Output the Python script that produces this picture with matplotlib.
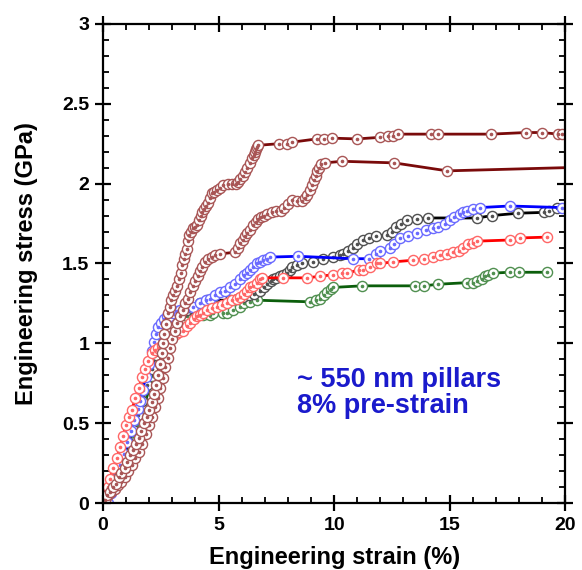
import matplotlib
matplotlib.use('Agg')
import matplotlib.pyplot as plt
from matplotlib.ticker import MultipleLocator

plt.rcParams['font.family'] = ['Liberation Sans', 'DejaVu Sans']
plt.rcParams['font.weight'] = 'bold'

# strain (%) / stress (GPa)
brown1_x = [0.0, 0.08, 0.18, 0.3, 0.42, 0.55, 0.68, 0.8, 0.93, 1.05, 1.18, 1.3, 1.42, 1.55, 1.66, 1.78,
            1.9, 2.0, 2.1, 2.2, 2.3, 2.38, 2.46, 2.54, 2.6, 2.66, 2.72, 2.8, 2.88, 2.96, 3.04, 3.12,
            3.2, 3.28, 3.36, 3.44, 3.5, 3.56, 3.62, 3.68, 3.74, 3.82, 3.9, 3.98, 4.06, 4.14, 4.22,
            4.3, 4.38, 4.46, 4.54, 4.62, 4.7, 4.8, 4.92, 5.05, 5.2, 5.4, 5.6, 5.75, 5.85, 5.95,
            6.05, 6.15, 6.25, 6.35, 6.45, 6.52, 6.58, 6.63, 6.68, 6.72, 7.6, 7.95, 8.2, 9.25, 9.55,
            9.9, 11.0, 12.0, 12.35, 12.55, 12.75, 14.2, 14.5, 16.8, 18.3, 19.0, 19.7, 19.85]
brown1_y = [0.0, 0.02, 0.05, 0.07, 0.10, 0.12, 0.16, 0.19, 0.22, 0.26, 0.30, 0.33, 0.37, 0.41, 0.45, 0.50,
            0.54, 0.58, 0.63, 0.68, 0.74, 0.80, 0.87, 0.94, 1.00, 1.06, 1.12, 1.19, 1.23, 1.27, 1.30, 1.33,
            1.36, 1.40, 1.44, 1.49, 1.53, 1.56, 1.59, 1.64, 1.68, 1.70, 1.72, 1.73, 1.74, 1.77, 1.80,
            1.82, 1.84, 1.86, 1.88, 1.91, 1.94, 1.95, 1.96, 1.97, 1.99, 2.00, 2.00, 2.00, 2.01, 2.03,
            2.05, 2.07, 2.10, 2.13, 2.16, 2.18, 2.20, 2.22, 2.23, 2.24, 2.25, 2.25, 2.26, 2.28, 2.28,
            2.285, 2.28, 2.29, 2.30, 2.30, 2.31, 2.31, 2.31, 2.31, 2.32, 2.32, 2.31, 2.31]

brown2_x = [0.0, 0.1, 0.22, 0.35, 0.5, 0.65, 0.8, 0.95, 1.1, 1.25, 1.4, 1.55, 1.7, 1.85, 2.0, 2.12,
            2.24, 2.36, 2.48, 2.6, 2.7, 2.8, 2.9, 3.0, 3.1, 3.22, 3.33, 3.45, 3.56, 3.66, 3.78, 3.9,
            4.0, 4.1, 4.2, 4.3, 4.42, 4.55, 4.7, 4.85, 5.06, 5.7, 5.85, 5.95, 6.05, 6.15, 6.25, 6.36,
            6.48, 6.6, 6.72, 6.85, 6.95, 7.1, 7.3, 7.5, 7.7, 7.85, 8.0, 8.2, 8.4, 8.6, 8.75, 8.85,
            8.96, 9.05, 9.12, 9.2, 9.28, 9.36, 9.45, 9.6, 10.35, 12.6, 14.9, 20.0]
brown2_y = [0.0, 0.02, 0.05, 0.07, 0.09, 0.11, 0.13, 0.16, 0.20, 0.24, 0.28, 0.32, 0.37, 0.43, 0.49, 0.54,
            0.60, 0.66, 0.72, 0.78, 0.85, 0.91, 0.97, 1.03, 1.08, 1.13, 1.17, 1.21, 1.25, 1.28, 1.32, 1.36,
            1.39, 1.42, 1.45, 1.48, 1.51, 1.53, 1.54, 1.55, 1.56, 1.57, 1.60, 1.63, 1.65, 1.67, 1.69, 1.71,
            1.74, 1.76, 1.78, 1.79, 1.80, 1.81, 1.82, 1.83, 1.83, 1.85, 1.87, 1.90, 1.89, 1.89, 1.91, 1.93,
            1.96, 1.99, 2.02, 2.05, 2.08, 2.10, 2.12, 2.13, 2.14, 2.13, 2.08, 2.10]

blue_x = [0.2, 0.35, 0.55, 0.75, 0.9, 1.05, 1.2, 1.35, 1.5, 1.6, 1.72, 1.85, 1.98, 2.1, 2.2, 2.3,
          2.4, 2.5, 2.62, 2.77, 2.9, 3.05, 3.2, 3.33, 3.55, 3.9, 4.2, 4.45, 4.63, 4.85, 5.06, 5.3,
          5.5, 5.7, 5.93, 6.1, 6.23, 6.36, 6.5, 6.67, 6.8, 6.93, 7.1, 7.23, 8.44, 10.8, 11.5, 11.8,
          12.0, 12.4, 12.6, 12.86, 13.2, 13.6, 14.0, 14.3, 14.5, 14.8, 15.0, 15.2, 15.45, 15.6, 15.76,
          16.0, 16.3, 17.6, 19.87]
blue_y = [0.0, 0.06, 0.15, 0.24, 0.31, 0.38, 0.45, 0.52, 0.59, 0.64, 0.71, 0.79, 0.87, 0.95, 1.01, 1.06,
          1.10, 1.13, 1.15, 1.17, 1.17, 1.19, 1.20, 1.21, 1.22, 1.23, 1.25, 1.27, 1.28, 1.30, 1.32, 1.33,
          1.35, 1.37, 1.40, 1.43, 1.44, 1.46, 1.48, 1.50, 1.51, 1.52, 1.53, 1.54, 1.545, 1.53, 1.53, 1.56,
          1.58, 1.60, 1.62, 1.66, 1.67, 1.69, 1.71, 1.72, 1.73, 1.75, 1.77, 1.79, 1.81, 1.82, 1.83,
          1.84, 1.85, 1.86, 1.85]

black_x = [0.1, 0.3, 0.5, 0.7, 0.9, 1.1, 1.3, 1.5, 1.7, 1.9, 2.1, 2.3, 2.5, 2.65, 2.77, 2.9,
           3.05, 3.2, 3.4, 3.63, 3.85, 4.05, 4.2, 4.33, 4.5, 5.5, 5.8, 6.06, 6.3, 6.55, 6.8, 6.95,
           7.1, 7.25, 7.37, 7.5, 7.66, 7.8, 7.96, 8.1, 8.2, 8.4, 8.6, 9.1, 9.5, 9.96, 10.26, 10.4,
           10.6, 10.8, 11.0, 11.26, 11.5, 11.8, 12.3, 12.5, 12.7, 12.9, 13.16, 13.6, 14.07, 16.2,
           16.84, 17.97, 19.1, 19.3, 19.65]
black_y = [0.0, 0.07, 0.15, 0.22, 0.30, 0.38, 0.46, 0.55, 0.64, 0.74, 0.84, 0.93, 1.00, 1.05, 1.10, 1.13,
           1.15, 1.17, 1.19, 1.21, 1.22, 1.23, 1.25, 1.25, 1.27, 1.27, 1.28, 1.29, 1.30, 1.31, 1.33, 1.35,
           1.37, 1.39, 1.40, 1.41, 1.42, 1.43, 1.44, 1.46, 1.48, 1.49, 1.50, 1.51, 1.53, 1.54, 1.55, 1.56,
           1.58, 1.60, 1.62, 1.65, 1.66, 1.67, 1.68, 1.70, 1.73, 1.75, 1.77, 1.78, 1.785, 1.785,
           1.80, 1.815, 1.82, 1.83, 1.85]

red_x = [0.0, 0.1, 0.2, 0.3, 0.45, 0.6, 0.75, 0.87, 1.0, 1.12, 1.25, 1.4, 1.55, 1.7, 1.82, 1.95,
         2.1, 2.25, 2.4, 2.55, 2.7, 2.85, 3.0, 3.15, 3.3, 3.47, 3.62, 3.77, 3.92, 4.07, 4.2, 4.33,
         4.5, 4.7, 4.93, 5.15, 5.37, 5.6, 5.8, 5.93, 6.1, 6.23, 6.36, 6.5, 6.65, 6.8, 6.88, 7.8,
         8.83, 9.4, 9.96, 10.35, 10.56, 11.1, 11.26, 11.56, 11.86, 12.0, 12.55, 13.4, 13.9, 14.3,
         14.6, 14.9, 15.15, 15.4, 15.6, 15.8, 16.0, 16.2, 17.6, 18.05, 19.2]
red_y = [0.0, 0.05, 0.10, 0.15, 0.22, 0.28, 0.35, 0.42, 0.49, 0.54, 0.58, 0.66, 0.72, 0.79, 0.84, 0.89,
         0.94, 0.96, 0.97, 0.99, 1.00, 1.02, 1.04, 1.06, 1.07, 1.08, 1.11, 1.13, 1.15, 1.17, 1.18, 1.19,
         1.21, 1.22, 1.23, 1.24, 1.25, 1.27, 1.28, 1.29, 1.31, 1.33, 1.35, 1.36, 1.38, 1.40, 1.41, 1.41,
         1.41, 1.42, 1.43, 1.44, 1.44, 1.46, 1.46, 1.48, 1.50, 1.50, 1.51, 1.52, 1.53, 1.54,
         1.55, 1.56, 1.57, 1.58, 1.60, 1.62, 1.63, 1.64, 1.647, 1.66, 1.665]

green_x = [0.05, 0.3, 0.6, 0.9, 1.2, 1.5, 1.8, 2.1, 2.4, 2.7, 2.9, 3.1, 3.3, 3.47, 3.63, 4.0,
           4.33, 4.63, 4.76, 5.2, 5.37, 5.63, 5.93, 6.1, 6.36, 6.67, 8.96, 9.2, 9.4, 9.55, 9.7, 9.85,
           9.96, 11.2, 13.5, 13.9, 14.5, 15.76, 16.0, 16.2, 16.4, 16.55, 16.65, 16.9, 17.6, 18.0, 19.2]
green_y = [0.0, 0.08, 0.18, 0.28, 0.38, 0.49, 0.62, 0.76, 0.90, 1.02, 1.09, 1.13, 1.15, 1.16, 1.17, 1.17,
           1.18, 1.18, 1.19, 1.19, 1.19, 1.21, 1.23, 1.25, 1.26, 1.27, 1.26, 1.27, 1.28, 1.30, 1.32, 1.34,
           1.35, 1.36, 1.36, 1.36, 1.37, 1.38, 1.38, 1.39, 1.40, 1.42, 1.43, 1.44, 1.445, 1.445, 1.445]

# (x, y, line colour, marker edge colour, markevery), drawn bottom to top
curves = [
    (green_x, green_y, '#0b5e0b', '#4f8f4f', None),
    (black_x, black_y, '#000000', '#505050', None),
    (blue_x, blue_y, '#0000ff', '#6a6aff', None),
    (red_x, red_y, '#ff0000', '#ff6666', None),
    (brown2_x, brown2_y, '#7a0a0a', '#a85555', slice(0, -1)),
    (brown1_x, brown1_y, '#7a0a0a', '#a85555', None),
]

fig = plt.figure(figsize=(5.82, 5.70), dpi=100)
ax = fig.add_axes([0.177, 0.1175, 0.794, 0.8405])

for x, y, line_color, edge_color, every in curves:
    ax.plot(x, y, '-', color=line_color, linewidth=2.0, marker='o', markersize=7.3,
            markerfacecolor='white', markeredgecolor=edge_color, markeredgewidth=1.0,
            markevery=every)
    ax.plot(x, y, linestyle='none', marker='o', markersize=1.6, color=edge_color,
            markevery=every)

ax.set_xlim(0, 20)
ax.set_ylim(0, 3)
ax.xaxis.set_major_locator(MultipleLocator(5))
ax.xaxis.set_minor_locator(MultipleLocator(1))
ax.yaxis.set_major_locator(MultipleLocator(0.5))
ax.yaxis.set_minor_locator(MultipleLocator(0.1))
ax.set_yticks([0, 0.5, 1, 1.5, 2, 2.5, 3], ['0', '0.5', '1', '1.5', '2', '2.5', '3'])

ax.tick_params(which='major', direction='inout', length=12, width=1.6, labelsize=14,
               top=True, right=True, pad=4)
ax.tick_params(which='minor', direction='in', length=4.5, width=1.3, top=True, right=True)
for spine in ax.spines.values():
    spine.set_linewidth(1.6)

ax.set_xlabel('Engineering strain (%)', fontsize=17, fontweight='bold', labelpad=9)
ax.set_ylabel('Engineering stress (GPa)', fontsize=17, fontweight='bold', labelpad=17)

ax.text(8.4, 0.69, '~ 550 nm pillars\n8% pre-strain', color='#1a1acc', fontsize=19.5,
        fontweight='bold', ha='left', va='center', linespacing=1.0)

fig.savefig('out.png', dpi=100)
